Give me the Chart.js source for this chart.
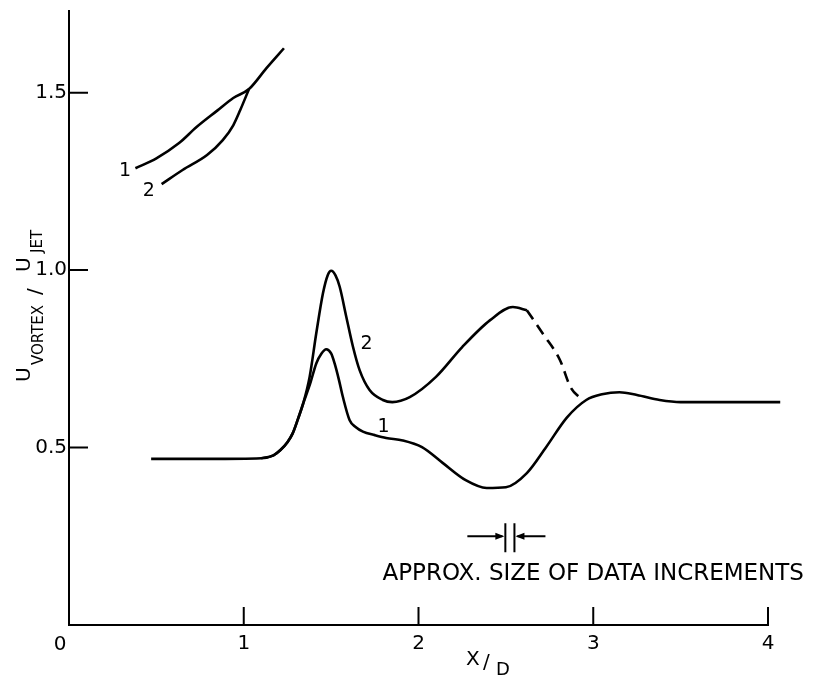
<!DOCTYPE html>
<html>
<head>
<meta charset="utf-8">
<script src="https://cdn.jsdelivr.net/npm/chart.js@4/dist/chart.umd.min.js"></script>
<style>
  html, body { margin: 0; padding: 0; background: #fff; }
  #wrap { width: 815px; height: 677px; position: relative; }
</style>
</head>
<body>
<div id="wrap"><canvas id="vortexChart"></canvas></div>
<script>
// upper branch (curves 1 and 2 meet near x/D = 1)
const upper1X = [0.38, 0.50, 0.63, 0.73, 0.85, 0.94, 1.03, 1.13, 1.23];
const upper1Y = [1.287, 1.315, 1.358, 1.403, 1.450, 1.485, 1.510, 1.569, 1.625];
const upper2X = [0.53, 0.65, 0.79, 0.88, 0.94, 0.98, 1.03];
const upper2Y = [1.242, 1.282, 1.324, 1.366, 1.408, 1.451, 1.510];

// lower branch, curve 1
const lower1X = [0.47, 0.80, 1.10, 1.17, 1.21, 1.25, 1.28, 1.31, 1.34, 1.38, 1.415, 1.445, 1.472, 1.50, 1.52, 1.545, 1.567, 1.606, 1.64, 1.682, 1.75, 1.815, 1.91, 2.02, 2.14, 2.27, 2.39, 2.50, 2.62, 2.73, 2.85, 2.96, 3.05, 3.15, 3.25, 3.38, 3.50, 3.70, 4.07];
const lower1Y = [0.468, 0.468, 0.470, 0.478, 0.493, 0.515, 0.540, 0.580, 0.624, 0.680, 0.737, 0.765, 0.777, 0.765, 0.737, 0.690, 0.643, 0.577, 0.558, 0.545, 0.535, 0.527, 0.520, 0.501, 0.456, 0.408, 0.386, 0.388, 0.428, 0.501, 0.585, 0.634, 0.650, 0.656, 0.648, 0.634, 0.628, 0.628, 0.628];

// lower branch, curve 2 (solid part, then dashed)
const lower2X = [1.10, 1.17, 1.21, 1.25, 1.28, 1.31, 1.34, 1.377, 1.415, 1.453, 1.48, 1.501, 1.525, 1.549, 1.587, 1.625, 1.663, 1.72, 1.796, 1.85, 1.95, 2.10, 2.25, 2.41, 2.54, 2.62];
const lower2Y = [0.470, 0.478, 0.493, 0.515, 0.540, 0.580, 0.624, 0.699, 0.822, 0.934, 0.985, 0.998, 0.985, 0.953, 0.868, 0.784, 0.718, 0.662, 0.634, 0.628, 0.642, 0.699, 0.783, 0.859, 0.896, 0.887];
const dashed2X = [2.62, 2.71, 2.81, 2.87, 2.93];
const dashed2Y = [0.887, 0.822, 0.746, 0.670, 0.637];

const xTicks = [1, 2, 3, 4];
const yTicks = [0.5, 1.0, 1.5];

// curve numbers written on the plot
const curveLabelText = ['1', '2', '2', '1'];
const curveLabelX = [0.32, 0.457, 1.703, 1.80];
const curveLabelY = [1.28, 1.222, 0.792, 0.558];

// "data increment" marker: two bars around x/D ~ 2.52
const incrementX = [2.497, 2.549];
const incrementY = 0.25;
const noteText = 'APPROX. SIZE OF DATA INCREMENTS';

const FONT = '"DejaVu Sans", sans-serif';

const pts = (xs, ys) => xs.map((v, i) => ({ x: v, y: ys[i] }));

function curve(data, dash) {
  return {
    data: data,
    borderColor: '#000',
    borderWidth: 2.6,
    borderDash: dash || [],
    pointRadius: 0,
    fill: false,
    clip: false,
    cubicInterpolationMode: 'monotone',
  };
}

const decorations = {
  id: 'decorations',
  afterDraw(chart) {
    const { ctx, scales: { x, y } } = chart;
    const x0 = x.getPixelForValue(0);
    const y0 = y.getPixelForValue(0);
    ctx.save();
    ctx.strokeStyle = '#000';
    ctx.fillStyle = '#000';
    ctx.lineWidth = 2;

    // tick marks point into the plot
    ctx.beginPath();
    xTicks.forEach(v => {
      const px = x.getPixelForValue(v);
      ctx.moveTo(px, y0);
      ctx.lineTo(px, y0 - 18);
    });
    yTicks.forEach(v => {
      const py = y.getPixelForValue(v);
      ctx.moveTo(x0, py);
      ctx.lineTo(x0 + 19, py);
    });
    ctx.stroke();

    // origin label sits left of the axis
    ctx.font = '20px ' + FONT;
    ctx.textAlign = 'center';
    ctx.textBaseline = 'alphabetic';
    ctx.fillText('0', x0 - 9, y0 + 25);

    // curve numbers
    ctx.font = '19px ' + FONT;
    ctx.textBaseline = 'middle';
    curveLabelText.forEach((t, i) => {
      ctx.fillText(t, x.getPixelForValue(curveLabelX[i]), y.getPixelForValue(curveLabelY[i]));
    });

    // increment marker
    const bx1 = x.getPixelForValue(incrementX[0]);
    const bx2 = x.getPixelForValue(incrementX[1]);
    const by = y.getPixelForValue(incrementY);
    ctx.beginPath();
    ctx.moveTo(bx1, by - 13); ctx.lineTo(bx1, by + 16);
    ctx.moveTo(bx2, by - 13); ctx.lineTo(bx2, by + 16);
    ctx.moveTo(bx1 - 38, by); ctx.lineTo(bx1 - 3, by);
    ctx.moveTo(bx2 + 3, by); ctx.lineTo(bx2 + 31, by);
    ctx.stroke();
    ctx.beginPath();
    ctx.moveTo(bx1 - 1, by); ctx.lineTo(bx1 - 10, by - 3.5); ctx.lineTo(bx1 - 10, by + 3.5); ctx.closePath();
    ctx.moveTo(bx2 + 1, by); ctx.lineTo(bx2 + 10, by - 3.5); ctx.lineTo(bx2 + 10, by + 3.5); ctx.closePath();
    ctx.fill();

    ctx.font = '23px ' + FONT;
    ctx.textAlign = 'left';
    ctx.textBaseline = 'alphabetic';
    ctx.fillText(noteText, x.getPixelForValue(1.794), y.getPixelForValue(0.127));

    // x title: X/D with lowered D
    ctx.font = '20px ' + FONT;
    ctx.fillText('X', 466, 665);
    ctx.fillText('/', 483, 668);
    ctx.font = '18px ' + FONT;
    ctx.fillText('D', 496, 675);

    // y title: U_VORTEX / U_JET, rotated
    ctx.translate(30, 382);
    ctx.rotate(-Math.PI / 2);
    ctx.font = '20px ' + FONT;
    ctx.fillText('U', 0, 0);
    ctx.fillText('/', 87, 11);
    ctx.fillText('U', 110, 0);
    ctx.font = '15px ' + FONT;
    ctx.fillText('VORTEX', 17, 13);
    ctx.fillText('JET', 129, 12);
    ctx.restore();
  },
};

new Chart(document.getElementById('vortexChart'), {
  type: 'line',
  data: {
    datasets: [
      curve(pts(upper1X, upper1Y)),
      curve(pts(upper2X, upper2Y)),
      curve(pts(lower1X, lower1Y)),
      curve(pts(lower2X, lower2Y)),
      curve(pts(dashed2X, dashed2Y), [11, 7]),
    ],
  },
  options: {
    responsive: true,
    maintainAspectRatio: false,
    animation: false,
    layout: { padding: { top: 11, right: 47, left: 0, bottom: 0 } },
    plugins: { legend: { display: false }, tooltip: { enabled: false } },
    scales: {
      x: {
        type: 'linear',
        min: 0,
        max: 4,
        afterBuildTicks: s => { s.ticks = xTicks.map(v => ({ value: v })); },
        afterFit: s => { s.height = 52; s.paddingLeft = 0; s.paddingRight = 0; },
        grid: { display: false, drawTicks: false },
        border: { display: true, color: '#000', width: 2 },
        ticks: { color: '#000', padding: 7, font: { family: FONT, size: 20 }, maxRotation: 0 },
      },
      y: {
        type: 'linear',
        min: 0,
        max: 1.73,
        afterBuildTicks: s => { s.ticks = yTicks.map(v => ({ value: v })); },
        afterFit: s => { s.width = 69; s.paddingTop = 0; s.paddingBottom = 0; },
        grid: { display: false, drawTicks: false },
        border: { display: true, color: '#000', width: 2 },
        ticks: { color: '#000', padding: 2, font: { family: FONT, size: 20 }, callback: v => v.toFixed(1) },
      },
    },
  },
  plugins: [decorations],
});
</script>
</body>
</html>
